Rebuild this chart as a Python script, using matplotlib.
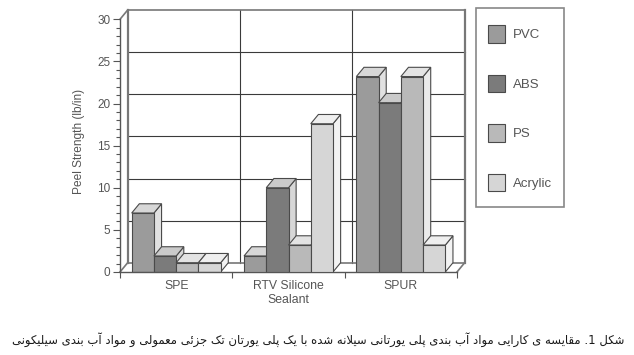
import matplotlib
matplotlib.use('Agg')
import matplotlib.pyplot as plt
from matplotlib.patches import Polygon, Rectangle
from matplotlib.lines import Line2D
from matplotlib.ticker import MultipleLocator, FixedLocator
import numpy as np

# ---------------- data ----------------
categories = ['SPE', 'RTV Silicone\nSealant', 'SPUR']
series_names = ['PVC', 'ABS', 'PS', 'Acrylic']
pvc = [7.0, 1.9, 23.2]
abs_vals = [1.9, 10.0, 20.1]
ps = [1.1, 3.2, 23.2]
acrylic = [1.1, 17.6, 3.2]
y_ticks = [0, 5, 10, 15, 20, 25, 30]
y_label = 'Peel Strength (lb/in)'
caption = ('شکل 1. مقایسه ی کارایی مواد آب بندی پلی یورتانی سیلانه شده '
           'با یک پلی یورتان تک جزئی معمولی و مواد آب بندی سیلیکونی')

# ---------------- styles ----------------
front_colors = ['#9b9b9b', '#7b7b7b', '#b9b9b9', '#d6d6d6']
edge = '#4a4a4a'
txt = '#555555'
W, H = 634, 355


def blend(c, f):
    r, g, b = matplotlib.colors.to_rgb(c)
    return (r + (1 - r) * f, g + (1 - g) * f, b + (1 - b) * f)


# ---------------- minimal Persian shaping ----------------
JOIN = {
    'ا': ('\uFE8D', '\uFE8E', None, None),
    'آ': ('\uFE81', '\uFE82', None, None),
    'ب': ('\uFE8F', '\uFE90', '\uFE91', '\uFE92'),
    'پ': ('\uFB56', '\uFB57', '\uFB58', '\uFB59'),
    'ت': ('\uFE95', '\uFE96', '\uFE97', '\uFE98'),
    'ج': ('\uFE9D', '\uFE9E', '\uFE9F', '\uFEA0'),
    'د': ('\uFEA9', '\uFEAA', None, None),
    'ر': ('\uFEAD', '\uFEAE', None, None),
    'ز': ('\uFEAF', '\uFEB0', None, None),
    'س': ('\uFEB1', '\uFEB2', '\uFEB3', '\uFEB4'),
    'ش': ('\uFEB5', '\uFEB6', '\uFEB7', '\uFEB8'),
    'ع': ('\uFEC9', '\uFECA', '\uFECB', '\uFECC'),
    'ق': ('\uFED5', '\uFED6', '\uFED7', '\uFED8'),
    'ک': ('\uFB8E', '\uFB8F', '\uFB90', '\uFB91'),
    'ل': ('\uFEDD', '\uFEDE', '\uFEDF', '\uFEE0'),
    'م': ('\uFEE1', '\uFEE2', '\uFEE3', '\uFEE4'),
    'ن': ('\uFEE5', '\uFEE6', '\uFEE7', '\uFEE8'),
    'ه': ('\uFEE9', '\uFEEA', '\uFEEB', '\uFEEC'),
    'و': ('\uFEED', '\uFEEE', None, None),
    'ی': ('\uFBFC', '\uFBFD', '\uFBFE', '\uFBFF'),
    'ئ': ('\uFE89', '\uFE8A', '\uFE8B', '\uFE8C'),
}
LAM_ALEF = {'ا': ('\uFEFB', '\uFEFC'), 'آ': ('\uFEF5', '\uFEF6')}


def shape_word(w):
    out, i, n, prev = [], 0, len(w), False
    while i < n:
        c = w[i]
        if c not in JOIN:
            out.append(c); prev = False; i += 1; continue
        if c == 'ل' and i + 1 < n and w[i + 1] in LAM_ALEF:
            iso, fin = LAM_ALEF[w[i + 1]]
            out.append(fin if prev else iso); prev = False; i += 2; continue
        f = JOIN[c]
        nxt = w[i + 1] if i + 1 < n else None
        nj = f[2] is not None and nxt in JOIN
        if prev and nj:
            out.append(f[3])
        elif prev:
            out.append(f[1])
        elif nj:
            out.append(f[2])
        else:
            out.append(f[0])
        prev = nj
        i += 1
    return ''.join(out)


def visual_rtl(s):
    toks = []
    for t in reversed(s.split(' ')):
        if any(ch in JOIN for ch in t):
            toks.append(shape_word(t)[::-1])
        else:
            core = t.rstrip('.')
            toks.append(t[len(core):][::-1] + core)
    return ' '.join(toks)


# ---------------- figure ----------------
plt.rcParams['font.family'] = ['Liberation Sans', 'DejaVu Sans']
fig = plt.figure(figsize=(W / 100, H / 100), dpi=100)
ax = fig.add_axes([120 / W, 83 / H, 337 / W, 252.7 / H])
ax.set_xlim(0, 3)
ax.set_ylim(0, 30)
ax.patch.set_alpha(0)
for s in ['top', 'right']:
    ax.spines[s].set_visible(False)
for s in ['left', 'bottom']:
    ax.spines[s].set_color('#555555')
    ax.spines[s].set_linewidth(1.0)

ddx, ddy = 0.068, 1.1   # depth offsets
lk = dict(color='#3a3a3a', lw=0.8, clip_on=False, zorder=1)
# back wall grid
for yv in y_ticks[1:-1]:
    ax.add_line(Line2D([ddx, 3 + ddx], [yv + ddy, yv + ddy], **lk))
for xv in [1, 2]:
    ax.add_line(Line2D([xv + ddx, xv + ddx], [ddy, 30 + ddy], **lk))
wk = dict(color='#777777', lw=1.2, clip_on=False, zorder=1)
ax.add_line(Line2D([ddx, 3 + ddx], [30 + ddy, 30 + ddy], **wk))
ax.add_line(Line2D([ddx, ddx], [ddy, 30 + ddy], color='#777777', lw=1.6, clip_on=False, zorder=1))
ax.add_line(Line2D([3 + ddx, 3 + ddx], [ddy, 30 + ddy], color='#777777', lw=1.6, clip_on=False, zorder=1))
ax.add_line(Line2D([0, ddx], [30, 30 + ddy], **wk))
# floor
ax.add_line(Line2D([ddx, 3 + ddx], [ddy, ddy], **wk))
ax.add_line(Line2D([0, ddx], [0, ddy], **wk))
ax.add_line(Line2D([3, 3 + ddx], [0, ddy], **wk))

# bars
off, bw = 0.104, 0.198
x = np.arange(len(categories))
values = [pvc, abs_vals, ps, acrylic]
handles = []
for s, vals in enumerate(values):
    bars = ax.bar(x + off + s * bw, vals, width=bw, align='edge',
                  color=front_colors[s], edgecolor=edge, linewidth=0.8,
                  label=series_names[s])
    handles.append(bars)
    for g, p in enumerate(bars):
        z = 2 + g + s * 0.1
        p.set_zorder(z + 0.05)
        x0, w0, h = p.get_x(), p.get_width(), p.get_height()
        ax.add_patch(Polygon([(x0, h), (x0 + w0, h), (x0 + w0 + ddx, h + ddy), (x0 + ddx, h + ddy)],
                             closed=True, facecolor=blend(front_colors[s], 0.6), edgecolor=edge,
                             lw=0.8, zorder=z + 0.03, clip_on=False))
        ax.add_patch(Polygon([(x0 + w0, 0), (x0 + w0, h), (x0 + w0 + ddx, h + ddy), (x0 + w0 + ddx, ddy)],
                             closed=True, facecolor=blend(front_colors[s], 0.7), edgecolor=edge,
                             lw=0.8, zorder=z + 0.01, clip_on=False))

# axes ticks
ax.yaxis.set_major_locator(FixedLocator(y_ticks))
ax.yaxis.set_minor_locator(MultipleLocator(1))
ax.tick_params(axis='y', which='major', length=5, width=0.8, color='#555555',
               labelsize=8.5, labelcolor=txt, pad=2)
ax.tick_params(axis='y', which='minor', length=3, width=0.8, color='#555555')
ax.xaxis.set_major_locator(FixedLocator([0, 1, 2, 3]))
ax.xaxis.set_minor_locator(FixedLocator(list(x + 0.5)))
ax.set_xticklabels([], minor=False)
ax.set_xticklabels(categories, minor=True)
ax.tick_params(axis='x', which='major', length=4, width=0.8, color='#555555')
ax.tick_params(axis='x', which='minor', length=0, labelsize=8.8, labelcolor=txt, pad=6)
for t in ax.get_xticklabels(minor=True):
    t.set_linespacing(1.2)

ax.set_ylabel(y_label, fontsize=8.6, color=txt)
ax.yaxis.set_label_coords(-0.103, 0.516)

# legend
fs_leg = 9.5
fig.add_artist(Rectangle((476 / W, 1 - 207 / H), 88 / W, 199 / H, transform=fig.transFigure,
                         facecolor='white', edgecolor='#888888', lw=1.2))
fig.legend(handles=handles, labels=series_names, loc='upper left',
           bbox_to_anchor=(487.5 / W, 1 - 25.5 / H), frameon=False, borderpad=0,
           fontsize=fs_leg, labelcolor=txt, handlelength=1.29, handleheight=1.61,
           labelspacing=2.46, handletextpad=0.62, borderaxespad=0)

fig.text(318.5 / W, 1 - 340 / H, visual_rtl(caption), ha='center', va='center',
         fontsize=8.4, color='#1a1a1a', family=['DejaVu Sans'])

fig.savefig('out.png', dpi=100)
